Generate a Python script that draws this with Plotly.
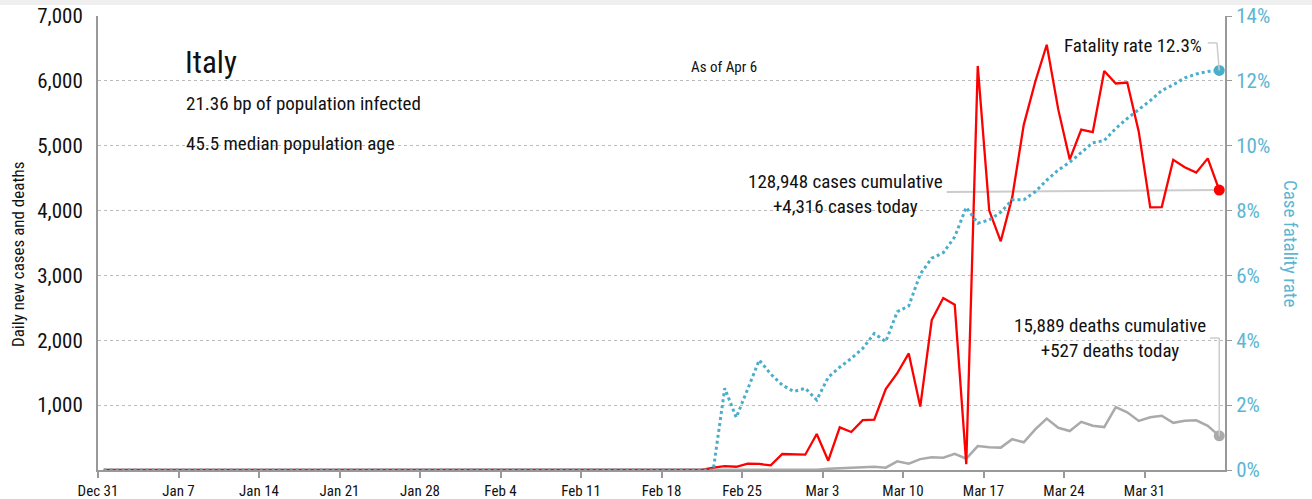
import pandas as pd
import plotly.graph_objects as go

# ---- data ----
start_date = "2019-12-31"
end_date = "2020-04-06"

# Dec 31 .. Feb 21 : no cases/deaths reported (53 days)
early_zero = [0, 0, 0, 0, 0, 0, 0, 0, 0, 0, 0, 0, 0, 0, 0, 0, 0, 0, 0, 0,
              0, 0, 0, 0, 0, 0, 0, 0, 0, 0, 0, 0, 0, 0, 0, 0, 0, 0, 0, 0,
              0, 0, 0, 0, 0, 0, 0, 0, 0, 0, 0, 0, 0]

# Feb 22 .. Apr 6
cases_late = [35, 60, 50, 97, 93, 72, 247, 236,
              236, 555, 143, 658, 586, 769, 778, 1247, 1492, 1797, 977, 2313,
              2651, 2547, 90, 6230, 4000, 3526, 4207, 5322, 5986, 6557, 5560,
              4789, 5249, 5210, 6153, 5959, 5974, 5217, 4050,
              4053, 4782, 4668, 4585, 4805, 4316]
deaths_late = [0, 2, 1, 4, 3, 2, 5, 4,
               8, 5, 18, 27, 28, 41, 49, 36, 133, 97, 168, 196,
               189, 250, 175, 368, 349, 345, 475, 427, 627, 793, 651,
               601, 743, 683, 662, 969, 889, 756, 812,
               837, 727, 760, 766, 681, 527]
cfr_late = [0.0, 2.52, 1.62, 2.5, 3.39, 2.96, 2.62, 2.42,
            2.52, 2.16, 2.86, 3.17, 3.44, 3.75, 4.21, 3.96, 4.88, 5.06, 6.04, 6.53,
            6.70, 7.19, 8.10, 7.61, 7.71, 7.95, 8.33, 8.33, 8.58, 8.94, 9.25,
            9.49, 9.80, 10.09, 10.16, 10.53, 10.84, 11.12, 11.39,
            11.70, 11.88, 12.09, 12.21, 12.29, 12.32]

cases = early_zero + cases_late
deaths = early_zero + deaths_late
cfr = early_zero + cfr_late

y_ticks = [0, 1000, 2000, 3000, 4000, 5000, 6000, 7000]
y_tick_labels = ["", "1,000", "2,000", "3,000", "4,000", "5,000", "6,000", "7,000"]
y2_ticks = [0, 2, 4, 6, 8, 10, 12, 14]
y2_tick_labels = ["0%", "2%", "4%", "6%", "8%", "10%", "12%", "14%"]
x_tick_dates = ["2019-12-31", "2020-01-07", "2020-01-14", "2020-01-21", "2020-01-28",
                "2020-02-04", "2020-02-11", "2020-02-18", "2020-02-25", "2020-03-03",
                "2020-03-10", "2020-03-17", "2020-03-24", "2020-03-31"]
x_tick_labels = ["Dec 31", "Jan 7", "Jan 14", "Jan 21", "Jan 28", "Feb 4", "Feb 11",
                 "Feb 18", "Feb 25", "Mar 3", "Mar 10", "Mar 17", "Mar 24", "Mar 31"]

country = "Italy"
infected_text = "21.36 bp of population infected"
age_text = "45.5 median population age"
asof_text = "As of Apr 6"
cases_text = "128,948 cases cumulative<br>+4,316 cases today"
deaths_text = "15,889 deaths cumulative<br>+527 deaths today"
fatality_text = "Fatality rate 12.3%"

# ---- styling ----
FONT = "Liberation Sans Narrow, Arial Narrow, Roboto Condensed, Roboto, sans-serif"
RED = "#ff0000"
GRAY = "#aaaaaa"
BLUE = "#4aaecb"
BLUE_TXT = "#5cb6d3"
AXIS = "#999999"

dates = pd.date_range(start_date, end_date, freq="D") + pd.Timedelta(hours=12)
last = dates[-1]

W, H = 1312, 499
L, R, T, B = 98, 1225, 16, 470


def px_x(px):
    return (px - L) / (R - L)


def px_y(py):
    return (B - py) / (B - T)


fig = go.Figure()
fig.add_trace(go.Scatter(x=dates, y=cfr, yaxis="y2", mode="lines",
                         line=dict(color=BLUE, width=3, dash="dot"),
                         hoverinfo="skip"))
fig.add_trace(go.Scatter(x=dates, y=deaths, mode="lines",
                         line=dict(color=GRAY, width=2.5), hoverinfo="skip"))
fig.add_trace(go.Scatter(x=dates, y=cases, mode="lines",
                         line=dict(color=RED, width=2.3), hoverinfo="skip"))
# end markers
fig.add_trace(go.Scatter(x=[last], y=[deaths[-1]], mode="markers",
                         marker=dict(color=GRAY, size=11), hoverinfo="skip"))
fig.add_trace(go.Scatter(x=[last], y=[cases[-1]], mode="markers",
                         marker=dict(color=RED, size=11), hoverinfo="skip"))
fig.add_trace(go.Scatter(x=[last], y=[cfr[-1]], yaxis="y2", mode="markers",
                         marker=dict(color=BLUE, size=11), hoverinfo="skip"))

shapes = []
LEAD = "#cccccc"
# top grey strip
shapes.append(dict(type="rect", xref="paper", yref="paper", x0=-0.2, x1=1.2,
                   y0=px_y(5), y1=px_y(-2), fillcolor="#efefef", line_width=0,
                   layer="below"))
# cases leader
shapes.append(dict(type="line", xref="x", yref="y",
                   x0=last - pd.Timedelta(days=23.7), y0=cases[-1] - 30,
                   x1=last, y1=cases[-1], line=dict(color=LEAD, width=2),
                   layer="below"))
# fatality leader
fy = 13.17
shapes.append(dict(type="line", xref="x", yref="y2",
                   x0=last - pd.Timedelta(days=1.0), y0=fy,
                   x1=last - pd.Timedelta(days=0.2), y1=fy,
                   line=dict(color=LEAD, width=1.5)))
shapes.append(dict(type="line", xref="x", yref="y2",
                   x0=last - pd.Timedelta(days=0.2), y0=fy,
                   x1=last, y1=cfr[-1], line=dict(color=LEAD, width=1.5)))
# deaths leader
dy = 2035
shapes.append(dict(type="line", xref="x", yref="y",
                   x0=last - pd.Timedelta(days=0.8), y0=dy,
                   x1=last, y1=dy, line=dict(color=LEAD, width=1.5)))
shapes.append(dict(type="line", xref="x", yref="y",
                   x0=last, y0=dy, x1=last, y1=deaths[-1],
                   line=dict(color=LEAD, width=1.5)))

ann = []


def add_text(text, px, py, size, xanchor="left", color="#111111", align="left"):
    ann.append(dict(text=text, x=px_x(px), y=px_y(py), xref="paper", yref="paper",
                    xanchor=xanchor, yanchor="middle", showarrow=False,
                    align=align, font=dict(family=FONT, size=size, color=color)))


add_text(country, 183, 62, 31)
add_text(infected_text, 184, 104, 19)
add_text(age_text, 184, 143, 19)
add_text(asof_text, 724, 67, 15, xanchor="center")
add_text(cases_text, 845, 194, 19, xanchor="center", align="center")
add_text(deaths_text, 1110, 338, 19, xanchor="center", align="center")
add_text(fatality_text, 1204, 45, 19, xanchor="right")
# axis titles
ann.append(dict(text="Daily new cases and deaths", x=px_x(18), y=px_y(255),
                xref="paper", yref="paper", textangle=-90, showarrow=False,
                xanchor="center", yanchor="middle",
                font=dict(family=FONT, size=17, color="#111111")))
ann.append(dict(text="Case fatality rate", x=px_x(1291), y=px_y(243),
                xref="paper", yref="paper", textangle=90, showarrow=False,
                xanchor="center", yanchor="middle",
                font=dict(family=FONT, size=19, color=BLUE_TXT)))

fig.update_layout(
    width=W, height=H,
    margin=dict(l=L, r=W - R, t=T, b=H - B, pad=0, autoexpand=False),
    paper_bgcolor="white", plot_bgcolor="white",
    showlegend=False,
    font=dict(family=FONT, size=15, color="#111111"),
    xaxis=dict(type="date", range=["2019-12-31", "2020-04-07"],
               tickvals=x_tick_dates, ticktext=x_tick_labels,
               showgrid=False, zeroline=False, automargin=False,
               showline=True, linecolor=AXIS, linewidth=2,
               ticks="outside", ticklen=6, tickcolor=AXIS, tickwidth=1.5,
               tickfont=dict(family=FONT, size=15, color="#111111")),
    yaxis=dict(range=[0, 7000], tickvals=y_ticks, ticktext=y_tick_labels,
               showgrid=True, gridcolor="#bbbbbb", griddash="dot", gridwidth=1,
               zeroline=False, showline=True, linecolor=AXIS, linewidth=2,
               automargin=False,
               ticks="", tickfont=dict(family=FONT, size=21, color="#111111"),
               ticklabelstandoff=9),
    yaxis2=dict(range=[0, 14], tickvals=y2_ticks, ticktext=y2_tick_labels,
                overlaying="y", side="right", showgrid=False, zeroline=False,
                showline=True, linecolor=AXIS, linewidth=2, automargin=False,
                ticks="outside", ticklen=5, tickcolor=AXIS,
                tickfont=dict(family=FONT, size=21, color=BLUE_TXT)),
    shapes=shapes, annotations=ann,
)

fig.write_html("out.html",
               config={"displayModeBar": False},
               post_script="document.body.style.margin='0px';"
                           "document.body.style.overflow='hidden';")
